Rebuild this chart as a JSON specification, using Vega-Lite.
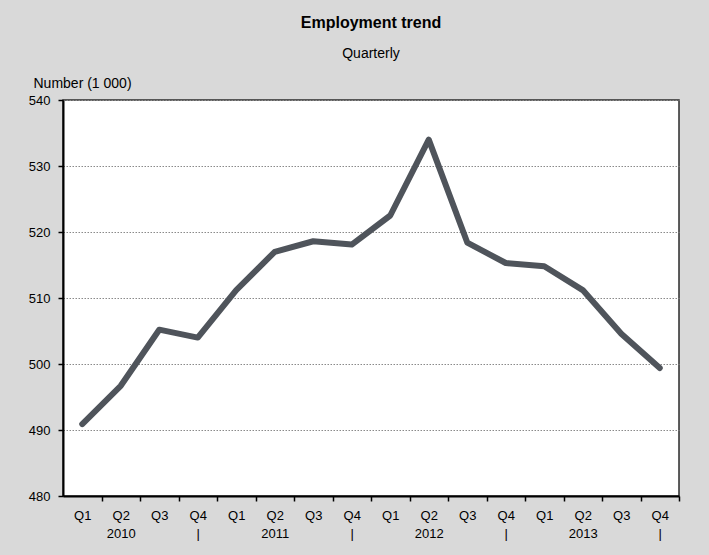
{
  "$schema": "https://vega.github.io/schema/vega-lite/v6.json",
  "width": 616,
  "height": 396,
  "autosize": {"type": "none"},
  "padding": {"left": 63, "top": 100, "right": 30, "bottom": 59},
  "background": "#d9d9d9",
  "title": {
    "text": "Employment trend",
    "subtitle": "Quarterly",
    "anchor": "middle",
    "frame": "group",
    "font": "Liberation Sans",
    "fontSize": 16,
    "fontWeight": "bold",
    "color": "#000000",
    "subtitleFont": "Liberation Sans",
    "subtitleFontSize": 14,
    "subtitleColor": "#000000",
    "subtitlePadding": 16,
    "offset": 15
  },
  "data": {
    "values": [
      {"q": "2010 Q1", "v": 490.9},
      {"q": "2010 Q2", "v": 496.7},
      {"q": "2010 Q3", "v": 505.2},
      {"q": "2010 Q4", "v": 504.0},
      {"q": "2011 Q1", "v": 511.2},
      {"q": "2011 Q2", "v": 517.0},
      {"q": "2011 Q3", "v": 518.6},
      {"q": "2011 Q4", "v": 518.1},
      {"q": "2012 Q1", "v": 522.5},
      {"q": "2012 Q2", "v": 534.0},
      {"q": "2012 Q3", "v": 518.4},
      {"q": "2012 Q4", "v": 515.3},
      {"q": "2013 Q1", "v": 514.8},
      {"q": "2013 Q2", "v": 511.2},
      {"q": "2013 Q3", "v": 504.6},
      {"q": "2013 Q4", "v": 499.4}
    ]
  },
  "mark": {"type": "line", "color": "#4f545b", "strokeWidth": 6, "strokeCap": "round", "strokeJoin": "round"},
  "encoding": {
    "x": {
      "field": "q",
      "type": "ordinal",
      "sort": null,
      "scale": {"type": "point", "padding": 0.5},
      "axis": {
        "title": null,
        "labelAngle": 0,
        "tickOffset": 19.25,
        "labelOffset": -19.25,
        "labelExpr": "[slice(datum.value, 5), slice(datum.value, 5) == 'Q2' ? slice(datum.value, 0, 4) : (slice(datum.value, 5) == 'Q4' ? '|' : '')]",
        "labelLineHeight": 18,
        "labelPadding": 8
      }
    },
    "y": {
      "field": "v",
      "type": "quantitative",
      "scale": {"domain": [480, 540], "zero": false, "nice": false},
      "axis": {
        "values": [480, 490, 500, 510, 520, 530, 540],
        "title": "Number (1 000)",
        "titleAngle": 0,
        "titleAlign": "left",
        "titleBaseline": "alphabetic",
        "titleX": -30,
        "titleY": -13,
        "titleFontSize": 14,
        "titleFontWeight": "normal",
        "labelPadding": 8,
        "grid": true,
        "gridColor": "#8a8a8a",
        "gridDash": [1.5, 1.5],
        "gridWidth": 1
      }
    }
  },
  "config": {
    "view": {"fill": "#ffffff", "stroke": "#2b2b2b", "strokeWidth": 1.5},
    "axis": {
      "labelFont": "Liberation Sans",
      "titleFont": "Liberation Sans",
      "labelFontSize": 13,
      "labelColor": "#000000",
      "titleColor": "#000000",
      "domainColor": "#000000",
      "domainWidth": 2,
      "tickColor": "#000000",
      "tickWidth": 1.5,
      "tickSize": 5
    },
    "axisX": {"grid": false}
  }
}
